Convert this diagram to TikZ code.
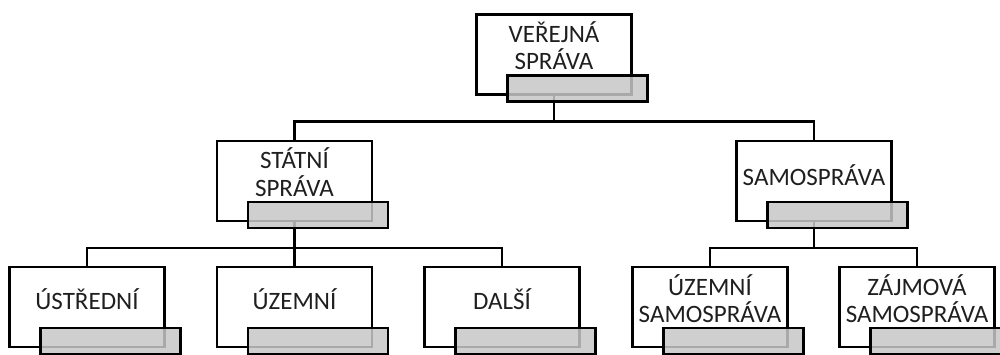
\documentclass[tikz,border=0pt]{standalone}
\usepackage{fontspec}
\setmainfont{Carlito}
\begin{document}
\begin{tikzpicture}[x=1pt,y=-1pt,
  box/.style={draw=black,line width=2.7pt,fill=white,minimum width=155pt,minimum height=80pt,inner sep=0pt,outer sep=0pt},
  txt/.style={align=center,text=black!88,font=\fontsize{25}{27.5}\selectfont,inner sep=0pt},
  tab/.style={draw=black,line width=2.7pt,fill=black!22,fill opacity=0.85,minimum width=140pt,minimum height=26pt,inner sep=0pt,outer sep=0pt,anchor=north west},
  conn/.style={line width=2.7pt,draw=black}]
\useasboundingbox (0,0) rectangle (1000,354);
\clip (0,0) rectangle (1000,354);
% boxes
\node[box] (vs) at (554,54.5) {};
\node[box] (ss) at (294.5,181) {};
\node[box] (sa) at (814,181) {};
\node[box] (ust) at (87,307) {};
\node[box] (uz) at (294.5,307) {};
\node[box] (da) at (502,307) {};
\node[box] (uzs) at (710,307) {};
\node[box] (zaj) at (917,307) {};
% texts
\node[txt] (vs-t) at (554,45.5) {VEŘEJNÁ\\SPRÁVA};
\node[txt] (ss-t) at (294.5,172) {STÁTNÍ\\SPRÁVA};
\node[txt] (sa-t) at (814,175) {SAMOSPRÁVA};
\node[txt] (ust-t) at (87,299) {ÚSTŘEDNÍ};
\node[txt] (uz-t) at (294.5,299) {ÚZEMNÍ};
\node[txt] (da-t) at (502,299) {DALŠÍ};
\node[txt] (uzs-t) at (710,298.5) {ÚZEMNÍ\\SAMOSPRÁVA};
\node[txt] (zaj-t) at (917,298.5) {ZÁJMOVÁ\\SAMOSPRÁVA};
% connectors
\draw[conn] (vs.south) -- ++(0,27) -| (ss.north);
\draw[conn] (vs.south) -- ++(0,27) -| (sa.north);
\draw[conn] (ss.south) -- ++(0,27) -| (ust.north);
\draw[conn] (ss.south) -- ++(0,27) -| (uz.north);
\draw[conn] (ss.south) -- ++(0,27) -| (da.north);
\draw[conn] (sa.south) -- ++(0,27) -| (uzs.north);
\draw[conn] (sa.south) -- ++(0,27) -| (zaj.north);
% gray tabs
\node[tab] (vs-g) at ([xshift=31pt,yshift=19pt]vs.south west) {};
\node[tab] (ss-g) at ([xshift=31pt,yshift=19pt]ss.south west) {};
\node[tab] (sa-g) at ([xshift=31pt,yshift=19pt]sa.south west) {};
\node[tab] (ust-g) at ([xshift=31pt,yshift=19pt]ust.south west) {};
\node[tab] (uz-g) at ([xshift=31pt,yshift=19pt]uz.south west) {};
\node[tab] (da-g) at ([xshift=31pt,yshift=19pt]da.south west) {};
\node[tab] (uzs-g) at ([xshift=31pt,yshift=19pt]uzs.south west) {};
\node[tab] (zaj-g) at ([xshift=31pt,yshift=19pt]zaj.south west) {};
\end{tikzpicture}
\end{document}
